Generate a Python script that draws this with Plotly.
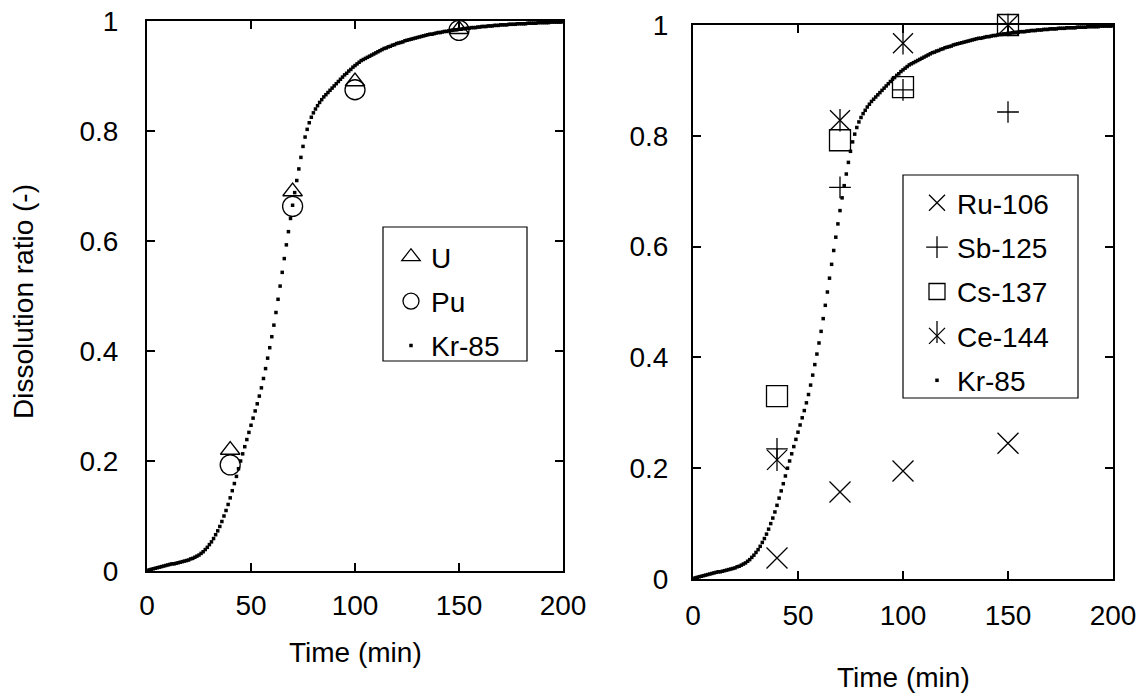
import plotly.graph_objects as go

# Sampling times (min) of the measured elements
t_meas = [40, 70, 100, 150]

# Left panel: U and Pu
u_vals = [0.22, 0.69, 0.89, 0.985]
pu_vals = [0.193, 0.663, 0.875, 0.983]

# Right panel: fission products
ru106 = [0.038, 0.157, 0.195, 0.245]
sb125 = [0.235, 0.707, 0.883, 0.843]
cs137 = [0.33, 0.792, 0.888, 1.0]
ce144 = [0.215, 0.828, 0.967, 1.0]

# Kr-85 release curve, one value per minute from 0 to 200 min
kr_time = list(range(0, 201))
kr85 = [
    0.000, 0.002, 0.003, 0.004, 0.005, 0.006, 0.007, 0.008, 0.009, 0.010,
    0.011, 0.012, 0.013, 0.013, 0.014, 0.015, 0.016, 0.017, 0.018, 0.019,
    0.020, 0.022, 0.023, 0.025, 0.027, 0.029, 0.032, 0.035, 0.039, 0.043,
    0.048, 0.053, 0.059, 0.066, 0.073, 0.081, 0.090, 0.100, 0.110, 0.121,
    0.133, 0.146, 0.159, 0.172, 0.186, 0.200, 0.213, 0.226, 0.239, 0.252,
    0.265, 0.278, 0.291, 0.304, 0.318, 0.333, 0.350, 0.368, 0.387, 0.406,
    0.426, 0.447, 0.470, 0.494, 0.518, 0.543, 0.568, 0.593, 0.617, 0.641,
    0.665, 0.688, 0.710, 0.731, 0.752, 0.772, 0.789, 0.803, 0.815, 0.825,
    0.833, 0.840, 0.846, 0.852, 0.857, 0.862, 0.866, 0.870, 0.874, 0.878,
    0.882, 0.886, 0.890, 0.894, 0.898, 0.902, 0.905, 0.909, 0.912, 0.916,
    0.919, 0.922, 0.925, 0.928, 0.930, 0.932, 0.934, 0.936, 0.938, 0.940,
    0.942, 0.944, 0.946, 0.948, 0.950, 0.951, 0.953, 0.954, 0.956, 0.957,
    0.959, 0.960, 0.961, 0.962, 0.964, 0.965, 0.966, 0.967, 0.968, 0.969,
    0.970, 0.971, 0.972, 0.973, 0.974, 0.975, 0.976, 0.976, 0.977, 0.978,
    0.979, 0.979, 0.980, 0.981, 0.981, 0.982, 0.983, 0.983, 0.984, 0.984,
    0.985, 0.985, 0.986, 0.986, 0.987, 0.987, 0.988, 0.988, 0.988, 0.989,
    0.989, 0.990, 0.990, 0.990, 0.991, 0.991, 0.991, 0.992, 0.992, 0.992,
    0.993, 0.993, 0.993, 0.993, 0.994, 0.994, 0.994, 0.994, 0.995, 0.995,
    0.995, 0.995, 0.995, 0.996, 0.996, 0.996, 0.996, 0.996, 0.997, 0.997,
    0.997, 0.997, 0.997, 0.997, 0.998, 0.998, 0.998, 0.998, 0.998, 0.998,
    0.999,
]

x_ticks = [0, 50, 100, 150, 200]
y_ticks = [0, 0.2, 0.4, 0.6, 0.8, 1]

W, H = 1146, 700
FONT = "Liberation Sans, Arial, sans-serif"
FS = 28
MLW = 1.3


def px(v):
    return v / W


def py(v):
    return 1 - v / H


fig = go.Figure()


def pt_trace(x, y, name, symbol, size, xa, ya, legend, group):
    return go.Scatter(
        x=x, y=y, name=name, mode="markers",
        marker=dict(symbol=symbol, size=size, color="black",
                    line=dict(color="black", width=MLW)),
        xaxis=xa, yaxis=ya, legend=legend, legendgroup=group,
        cliponaxis=False,
    )


def kr_trace(xa, ya, legend, group):
    return go.Scatter(
        x=kr_time, y=kr85, name="Kr-85", mode="markers",
        marker=dict(symbol="square", size=3.5, color="black", line=dict(width=0)),
        xaxis=xa, yaxis=ya, legend=legend, legendgroup=group,
        cliponaxis=False,
    )


# Left panel
fig.add_trace(pt_trace(t_meas, u_vals, "U", "triangle-up-open", 17, "x", "y", "legend", "l1"))
fig.add_trace(pt_trace(t_meas, pu_vals, "Pu", "circle-open", 20, "x", "y", "legend", "l2"))
fig.add_trace(kr_trace("x", "y", "legend", "l3"))

# Right panel
fig.add_trace(pt_trace(t_meas, ru106, "Ru-106", "x-thin-open", 21, "x2", "y2", "legend2", "r1"))
fig.add_trace(pt_trace(t_meas, sb125, "Sb-125", "cross-thin-open", 15.5, "x2", "y2", "legend2", "r2"))
fig.add_trace(pt_trace(t_meas, cs137, "Cs-137", "square-open", 21, "x2", "y2", "legend2", "r3"))
fig.add_trace(pt_trace(t_meas, ce144, "Ce-144", "x-thin-open", 20, "x2", "y2", "legend2", "r4"))
fig.add_trace(kr_trace("x2", "y2", "legend2", "r5"))
# vertical stroke that completes the Ce-144 star marker
ce_bar = pt_trace(t_meas, ce144, "Ce-144", "line-ns-open", 16, "x2", "y2", "legend2", "r4")
ce_bar.showlegend = False
fig.add_trace(ce_bar)

ax_common = dict(
    range=[0, 200], tickvals=x_ticks, ticks="inside", ticklen=8, tickwidth=2,
    tickcolor="black", showline=True, linewidth=2, linecolor="black",
    mirror="ticks", showgrid=False, zeroline=False, automargin=False,
    tickfont=dict(family=FONT, size=FS, color="black"),
)
ay_common = dict(
    range=[0, 1], tickvals=y_ticks, ticks="inside", ticklen=8, tickwidth=2,
    tickcolor="black", showline=True, linewidth=2, linecolor="black",
    mirror="ticks", showgrid=False, zeroline=False, automargin=False,
    tickfont=dict(family=FONT, size=FS, color="black"),
)

legend_common = dict(
    bgcolor="rgba(0,0,0,0)", borderwidth=0,
    font=dict(family=FONT, size=FS, color="black"),
    xanchor="left", yanchor="top", itemwidth=30, traceorder="grouped",
    tracegroupgap=5,
)

# legend frames
frames = [
    dict(type="rect", xref="paper", yref="paper",
         x0=px(383), x1=px(527), y0=py(227), y1=py(361),
         line=dict(color="black", width=1.2), fillcolor="white", layer="below"),
    dict(type="rect", xref="paper", yref="paper",
         x0=px(903), x1=px(1078), y0=py(175), y1=py(398),
         line=dict(color="black", width=1.2), fillcolor="white", layer="below"),
    # vertical stroke of the Ce-144 legend symbol
    dict(type="line", xref="paper", yref="paper",
         x0=px(937), x1=px(937), y0=py(321), y1=py(343),
         line=dict(color="black", width=MLW)),
]

fig.update_layout(
    width=W, height=H,
    margin=dict(l=0, r=0, t=0, b=0),
    plot_bgcolor="rgba(0,0,0,0)", paper_bgcolor="white",
    font=dict(family=FONT, size=FS, color="black"),
    xaxis=dict(domain=[px(147), px(563)], anchor="y", ticklabelstandoff=8, **ax_common),
    yaxis=dict(domain=[py(571), py(21)], anchor="x", ticklabelstandoff=21, **ay_common),
    xaxis2=dict(domain=[px(693), px(1113)], anchor="y2", ticklabelstandoff=10, **ax_common),
    yaxis2=dict(domain=[py(579), py(25)], anchor="x2", ticklabelstandoff=17, **ay_common),
    legend=dict(x=px(391), y=py(232), **legend_common),
    legend2=dict(x=px(917), y=py(178), **legend_common),
    showlegend=True,
    shapes=frames,
    annotations=[
        dict(text="Dissolution ratio (-)", x=px(23), y=py(302), xref="paper", yref="paper",
             xanchor="center", yanchor="middle", textangle=-90, showarrow=False,
             font=dict(family=FONT, size=FS, color="black")),
        dict(text="Time (min)", x=px(355), y=py(652), xref="paper", yref="paper",
             xanchor="center", yanchor="middle", showarrow=False,
             font=dict(family=FONT, size=FS, color="black")),
        dict(text="Time (min)", x=px(903), y=py(677), xref="paper", yref="paper",
             xanchor="center", yanchor="middle", showarrow=False,
             font=dict(family=FONT, size=FS, color="black")),
    ],
)

fig.write_html("out.html")
